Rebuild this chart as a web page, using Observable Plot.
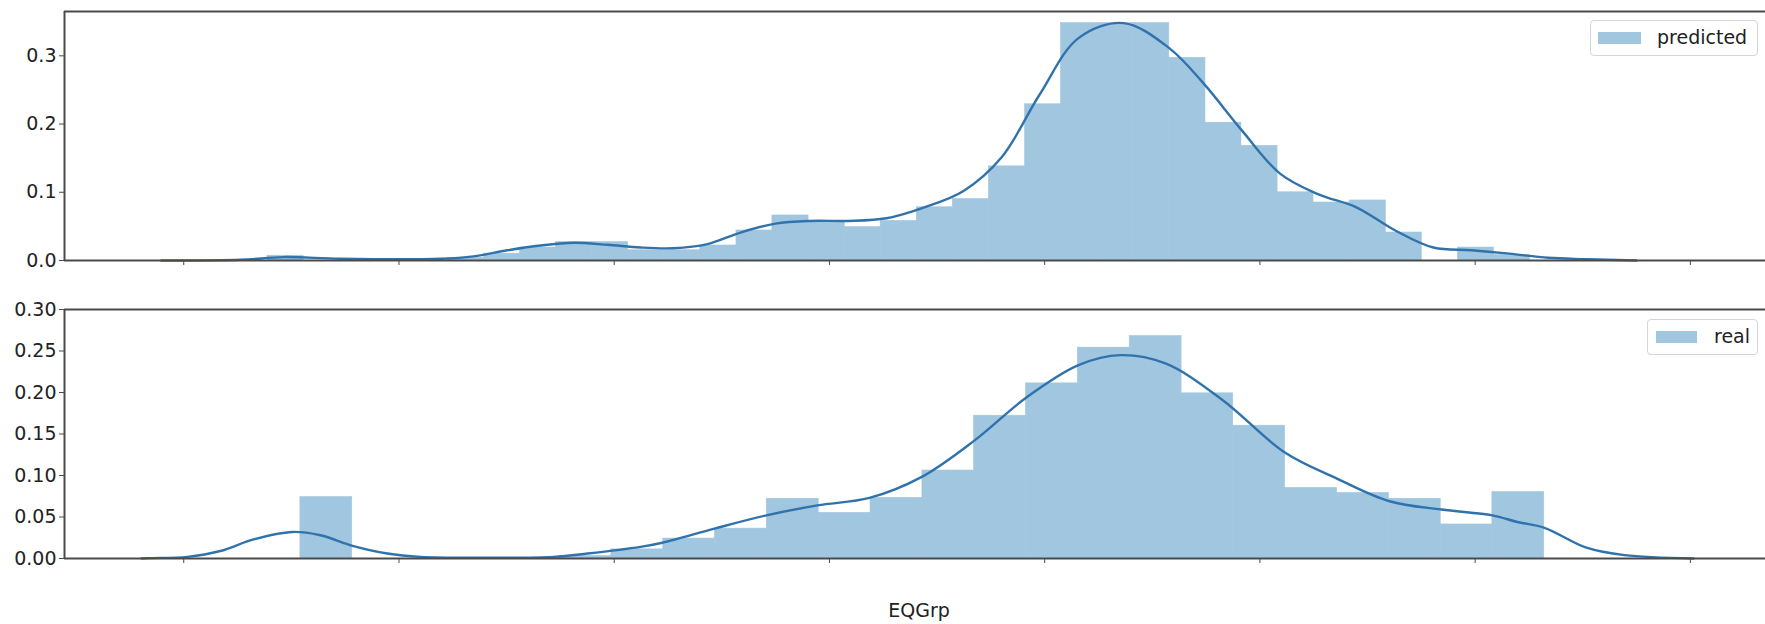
<!DOCTYPE html>
<html>
<head>
<meta charset="utf-8">
<script src="https://cdn.jsdelivr.net/npm/d3@7"></script>
<script src="https://cdn.jsdelivr.net/npm/@observablehq/plot@0.6"></script>
<style>
  html, body { margin: 0; padding: 0; background: #fff; }
  #wrap { position: relative; width: 1765px; height: 624px; overflow: hidden; font-family: "DejaVu Sans", sans-serif; }
  #top, #bottom { position: absolute; left: 0; }
  #top { top: 0; }
  #bottom { top: 285px; }
  .legend { position: absolute; box-sizing: border-box; border: 1px solid #d6d6d6; border-radius: 4px; background: rgba(255,255,255,0.85); }
  .legend .patch { position: absolute; background: #a1c6e0; }
  .legend .lbl { position: absolute; font-size: 19px; color: #222; line-height: 1; white-space: nowrap; }
</style>
</head>
<body>
<div id="wrap">
  <div id="top"></div>
  <div id="bottom"></div>
</div>
<script>
// ---- shared x axis (unlabelled ticks) ----
const xTicks = [0, 1, 2, 3, 4, 5, 6, 7];
const xDomain = [-0.554, 7.349];
const xLabel = "EQGrp";

// ---- predicted: histogram bin edges and densities ----
const predEdges = [0.389, 0.557, 0.724, 0.892, 1.059, 1.227, 1.395, 1.562, 1.730, 1.897,
  2.065, 2.233, 2.400, 2.568, 2.735, 2.903, 3.071, 3.238, 3.406, 3.573,
  3.741, 3.909, 4.076, 4.244, 4.411, 4.579, 4.747, 4.914, 5.082, 5.249,
  5.417, 5.585, 5.752, 5.920, 6.087, 6.255];
const predDensity = [0.007, 0, 0, 0, 0, 0.004, 0.010, 0.019, 0.027, 0.027,
  0.015, 0.015, 0.022, 0.044, 0.066, 0.058, 0.049, 0.058, 0.078, 0.090,
  0.138, 0.229, 0.348, 0.348, 0.348, 0.297, 0.202, 0.168, 0.100, 0.085,
  0.088, 0.041, 0, 0.019, 0.008];
// predicted: KDE curve
const predKdeX = [-0.104, 0.264, 0.463, 0.728, 1.193, 1.346, 1.504, 1.657, 1.811, 1.969,
  2.122, 2.275, 2.433, 2.587, 2.749, 2.912, 3.088, 3.265, 3.441, 3.623,
  3.799, 3.976, 4.157, 4.366, 4.580, 4.737, 4.918, 5.095, 5.272, 5.448,
  5.629, 5.806, 5.983, 6.159, 6.340, 6.516, 6.749];
const predKdeY = [0.000, 0.001, 0.005, 0.0025, 0.0025, 0.006, 0.015, 0.022, 0.026, 0.023,
  0.019, 0.018, 0.024, 0.041, 0.054, 0.058, 0.058, 0.062, 0.078, 0.102,
  0.151, 0.243, 0.326, 0.348, 0.311, 0.260, 0.190, 0.127, 0.097, 0.078,
  0.044, 0.019, 0.015, 0.010, 0.004, 0.002, 0.000];

// ---- real: histogram bin edges and densities ----
const realEdges = [0.542, 0.783, 1.024, 1.264, 1.505, 1.746, 1.987, 2.228, 2.468, 2.709,
  2.950, 3.191, 3.432, 3.672, 3.913, 4.154, 4.395, 4.636, 4.876, 5.117,
  5.358, 5.599, 5.840, 6.080, 6.321];
const realDensity = [0.074, 0, 0, 0, 0, 0.003, 0.011, 0.024, 0.036, 0.072,
  0.055, 0.073, 0.106, 0.172, 0.211, 0.254, 0.268, 0.199, 0.160, 0.085,
  0.079, 0.072, 0.041, 0.080];
// real: KDE curve
const realKdeX = [-0.196, -0.155, 0.017, 0.170, 0.324, 0.505, 0.635, 0.789, 0.946, 1.100,
  1.379, 1.718, 1.876, 2.122, 2.224, 2.466, 2.707, 2.944, 3.186, 3.427,
  3.673, 3.915, 4.157, 4.352, 4.561, 4.826, 5.114, 5.360, 5.602, 5.843,
  6.080, 6.196, 6.322, 6.517, 6.694, 7.014];
const realKdeY = [0.000, 0.0005, 0.002, 0.009, 0.023, 0.032, 0.028, 0.015, 0.006, 0.002,
  0.001, 0.002, 0.006, 0.014, 0.019, 0.036, 0.052, 0.064, 0.073, 0.098,
  0.142, 0.194, 0.233, 0.245, 0.235, 0.191, 0.128, 0.096, 0.069, 0.059,
  0.052, 0.044, 0.037, 0.013, 0.004, 0.000];

const predTicks = [0, 0.1, 0.2, 0.3];
const realTicks = [0, 0.05, 0.10, 0.15, 0.20, 0.25, 0.30];
const predYMax = 0.365;
const realYMax = 0.30;

const barColor = "#a1c6e0";
const lineColor = "#3073ac";
const spineColor = "#4a4a4a";

function bins(edges, dens) {
  return dens.map((d, i) => ({x1: edges[i], x2: edges[i + 1], y: d}));
}
function pts(xs, ys) {
  return xs.map((x, i) => ({x, y: ys[i]}));
}

function panel({height, marginTop, marginBottom, yMax, yTicks, yFmt, binsData, kdeData, extra}) {
  return Plot.plot({
    width: 1765,
    height,
    marginLeft: 64,
    marginRight: 0,
    marginTop,
    marginBottom,
    x: {domain: xDomain},
    y: {domain: [0, yMax]},
    style: {fontFamily: "'DejaVu Sans', sans-serif", fontSize: "19px", color: "#222", background: "white", overflow: "visible"},
    marks: [
      Plot.rectY(binsData, {x1: "x1", x2: "x2", y: "y", fill: barColor, stroke: barColor, strokeWidth: 0.6}),
      Plot.line(kdeData, {x: "x", y: "y", stroke: lineColor, strokeWidth: 2.4, curve: "catmull-rom"}),
      Plot.ruleY([0], {stroke: spineColor, strokeWidth: 2}),
      Plot.ruleY([yMax], {stroke: spineColor, strokeWidth: 2}),
      Plot.ruleX([xDomain[0]], {stroke: spineColor, strokeWidth: 2}),
      Plot.axisX({ticks: xTicks, tickFormat: () => "", tickSize: 5, stroke: spineColor, label: null}),
      Plot.axisY({ticks: yTicks, tickFormat: yFmt, tickSize: 5, tickPadding: 3, stroke: spineColor, label: null}),
      ...(extra || [])
    ]
  });
}

const topChart = panel({
  height: 285, marginTop: 11, marginBottom: 25,
  yMax: predYMax, yTicks: predTicks, yFmt: d3.format(".1f"),
  binsData: bins(predEdges, predDensity).filter(d => d.y > 0), kdeData: pts(predKdeX, predKdeY)
});
document.getElementById("top").appendChild(topChart);

const bottomChart = panel({
  height: 339, marginTop: 24, marginBottom: 66,
  yMax: realYMax, yTicks: realTicks, yFmt: d3.format(".2f"),
  binsData: bins(realEdges, realDensity).filter(d => d.y > 0), kdeData: pts(realKdeX, realKdeY),
  extra: [Plot.text([xLabel], {frameAnchor: "bottom", dy: 58, dx: 4, text: d => d, fontSize: 19, fill: "#222"})]
});
document.getElementById("bottom").appendChild(bottomChart);

// legends
function legend(label, box, patch, text) {
  const el = document.createElement("div");
  el.className = "legend";
  Object.assign(el.style, {left: box[0] + "px", top: box[1] + "px", width: box[2] + "px", height: box[3] + "px"});
  const p = document.createElement("div");
  p.className = "patch";
  Object.assign(p.style, {left: patch[0] + "px", top: patch[1] + "px", width: patch[2] + "px", height: patch[3] + "px"});
  const t = document.createElement("div");
  t.className = "lbl";
  t.textContent = label;
  Object.assign(t.style, {left: text[0] + "px", top: text[1] + "px"});
  el.appendChild(p); el.appendChild(t);
  document.getElementById("wrap").appendChild(el);
}
legend("predicted", [1590, 20, 168, 36], [7, 11, 43, 12], [66, 7]);
legend("real", [1647, 319, 111, 36], [8, 11, 41, 12], [66, 7]);
</script>
</body>
</html>
